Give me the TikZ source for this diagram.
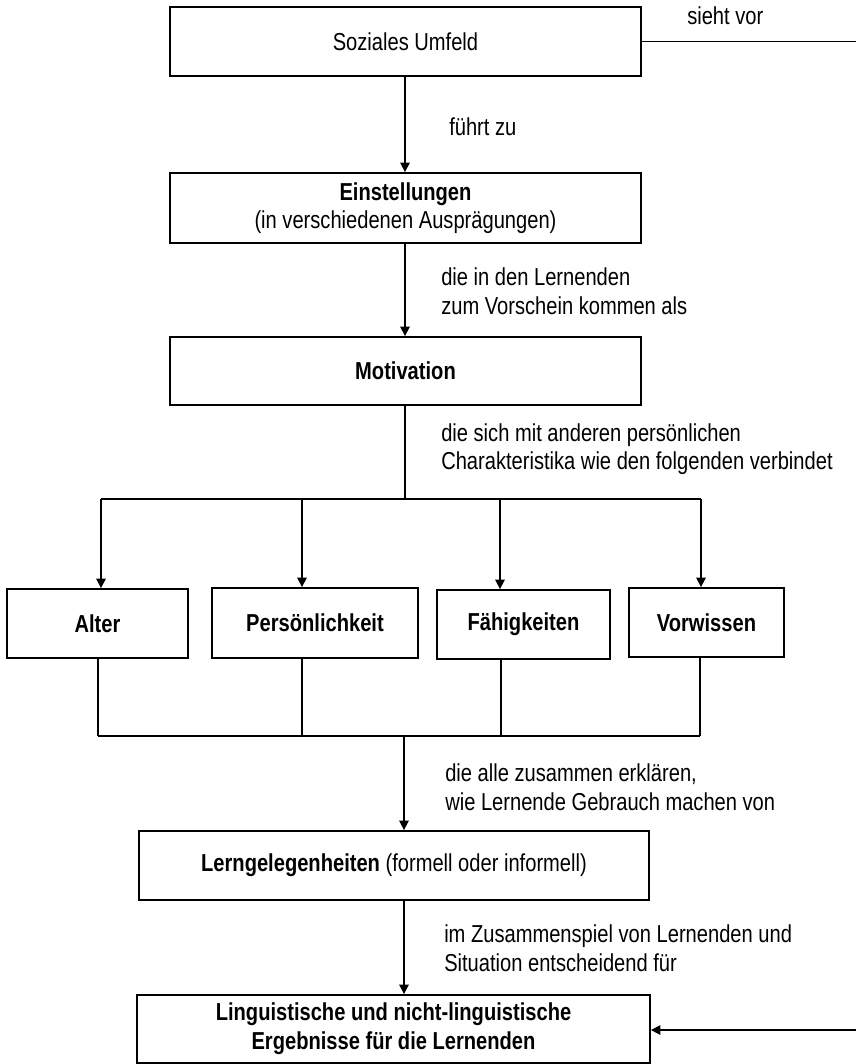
\documentclass[tikz,border=0pt]{standalone}
\usepackage{fontspec}
\setmainfont{Liberation Sans}[FakeStretch=0.82]
\usepackage{tikz}
\usetikzlibrary{arrows.meta,positioning,calc}
\tikzset{
	ubox/.style={
		draw=black,
		rectangle,
		align=center,
		inner sep=0pt,
		line width=1.4pt,
		font=\fontsize{18.4}{21.5}\selectfont
	},
	ulabel/.style={
		anchor=west,
		align=left,
		inner sep=0pt,
		font=\fontsize{18.4}{21.5}\selectfont
	},
	uline/.style={line width=1.2pt, black},
	uarr/.style={-{Triangle[length=7pt,width=7pt]}, line width=1.2pt, black}
}

\begin{document}
\begin{tikzpicture}[x=0.75pt, y=-0.75pt]
		\useasboundingbox (0,0) rectangle (856,1064);
		% boxes
		\node[ubox, minimum width=353.25pt, minimum height=51.75pt] (umfeld) at (405.5,41.5) {Soziales Umfeld};
		\node[ubox, minimum width=353.25pt, minimum height=52.5pt] (einst) at (405.5,208) {\textbf{Einstellungen}\\(in verschiedenen Ausprägungen)};
		\node[ubox, minimum width=353.25pt, minimum height=51pt] (motiv) at (405.5,371) {\textbf{Motivation}};
		\node[ubox, minimum width=135.75pt, minimum height=51.75pt] (alter) at (97.5,623.5) {\textbf{Alter}};
		\node[ubox, minimum width=154.5pt, minimum height=52.5pt] (pers) at (315,623) {\textbf{Persönlichkeit}};
		\node[ubox, minimum width=129.75pt, minimum height=51.75pt] (faeh) at (523.5,624.5) {\textbf{Fähigkeiten}};
		\node[ubox, minimum width=116.25pt, minimum height=51.75pt] (vorw) at (706.5,622.5) {\textbf{Vorwissen}};
		\node[ubox, minimum width=382.5pt, minimum height=51.75pt] (lern) at (394,865.5) {\textbf{Lerngelegenheiten} (formell oder informell)};
		\node[ubox, minimum width=384.75pt, minimum height=51pt] (ergeb) at (393.5,1029) {\textbf{Linguistische und nicht-linguistische}\\\textbf{Ergebnisse für die Lernenden}};
		% labels
		\node[ulabel] (lsieht) at (687,16) {sieht vor};
		\node[ulabel] (lfuehrt) at (449,127) {führt zu};
		\node[ulabel] (lvorschein) at (441,291) {die in den Lernenden\\zum Vorschein kommen als};
		\node[ulabel] (lverbindet) at (441,449) {die sich mit anderen persönlichen\\Charakteristika wie den folgenden verbindet};
		\node[ulabel] (lerklaeren) at (445,787.5) {die alle zusammen erklären,\\wie Lernende Gebrauch machen von};
		\node[ulabel] (lspiel) at (444,948.5) {im Zusammenspiel von Lernenden und\\Situation entscheidend für};
		% helper points
		\coordinate (spine) at (405,0);
		\coordinate (fork) at (405,499);
		\coordinate (fa) at (101,499);
		\coordinate (fb) at (302,499);
		\coordinate (fc) at (500,499);
		\coordinate (fd) at (701,499);
		\coordinate (join) at (404,736);
		\coordinate (ja) at (98,736);
		\coordinate (jb) at (302,736);
		\coordinate (jc) at (501,736);
		\coordinate (jd) at (700,736);
		\coordinate (edget) at (856,41.5);
		\coordinate (edgeb) at (856,1030);
		% connectors
		\draw[uline] (umfeld.east) -- (edget);
		\draw[uarr] (umfeld.south -| spine) -- (einst.north -| spine);
		\draw[uarr] (einst.south -| spine) -- (motiv.north -| spine);
		\draw[uline] (motiv.south -| spine) -- (fork);
		\draw[uline] (fa) -- (fd);
		\draw[uarr] (fa) -- (fa |- alter.north);
		\draw[uarr] (fb) -- (fb |- pers.north);
		\draw[uarr] (fc) -- (fc |- faeh.north);
		\draw[uarr] (fd) -- (fd |- vorw.north);
		\draw[uline] (alter.south -| ja) -- (ja);
		\draw[uline] (pers.south -| jb) -- (jb);
		\draw[uline] (faeh.south -| jc) -- (jc);
		\draw[uline] (vorw.south -| jd) -- (jd);
		\draw[uline] (ja) -- (jd);
		\draw[uarr] (join) -- (join |- lern.north);
		\draw[uarr] (lern.south -| join) -- (ergeb.north -| join);
		\draw[uarr] (edgeb) -- (edgeb -| ergeb.east);
	\end{tikzpicture}
\end{document}
